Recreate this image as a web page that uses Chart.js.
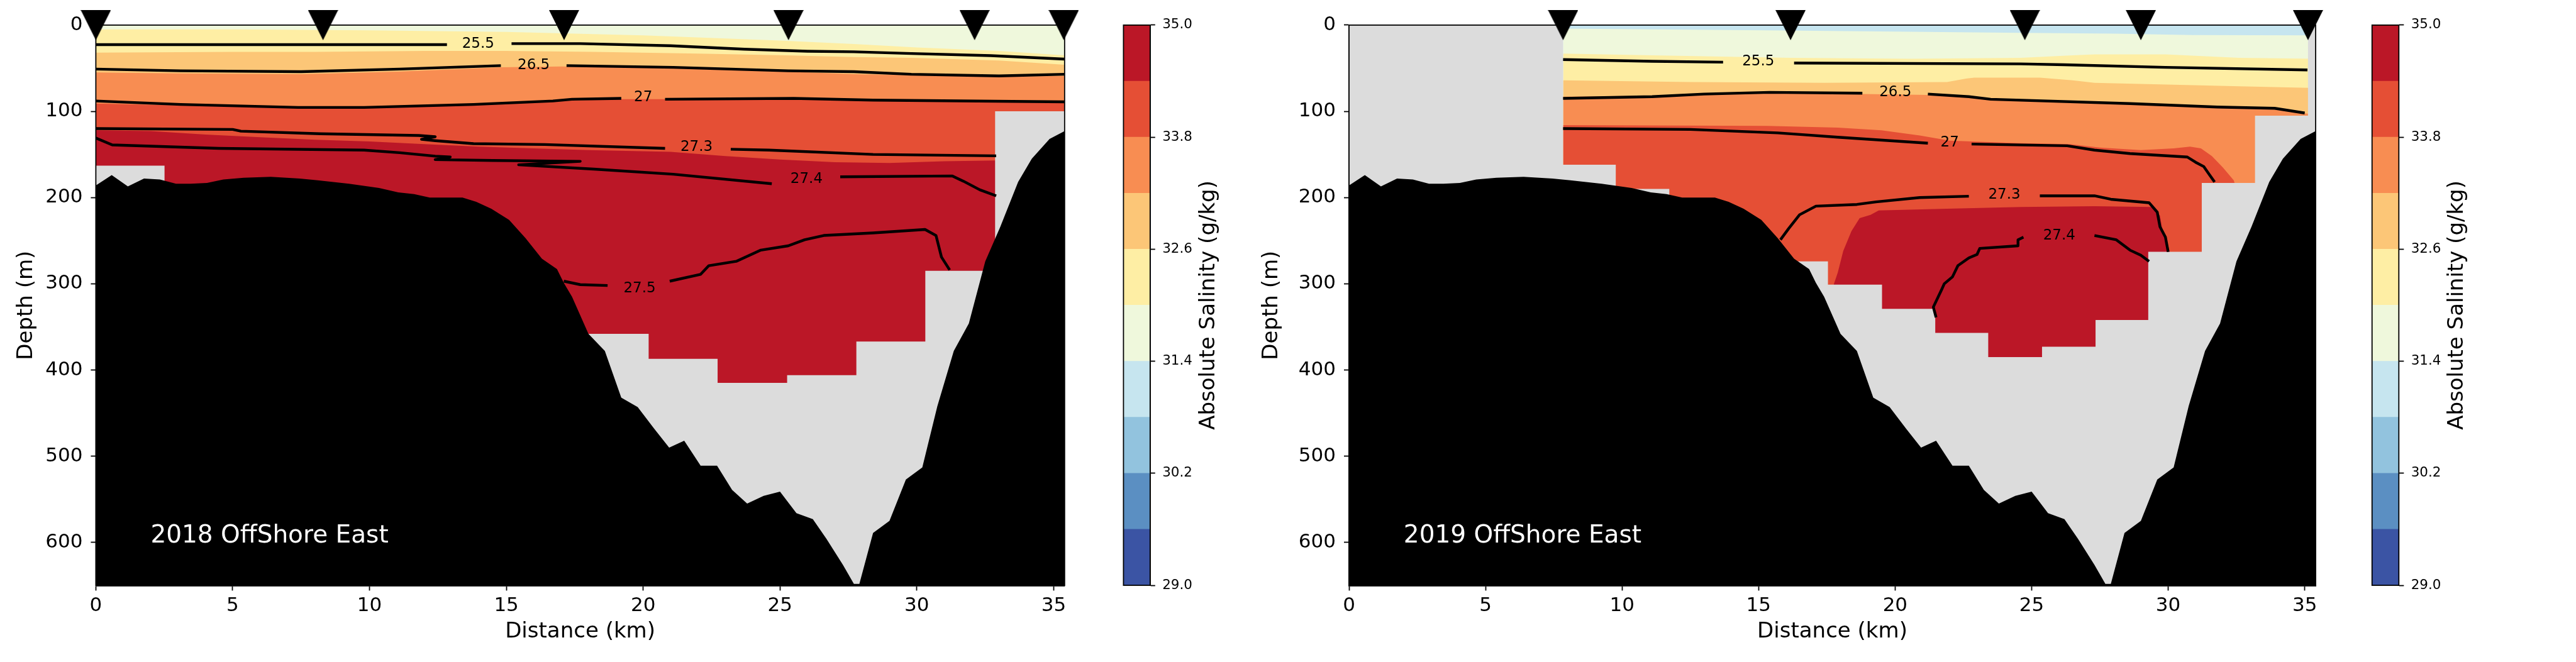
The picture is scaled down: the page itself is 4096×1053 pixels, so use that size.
<!DOCTYPE html>
<html>
<head>
<meta charset="utf-8">
<title>OffShore East salinity sections</title>
<script src="https://cdn.jsdelivr.net/npm/chart.js@4.4.1/dist/chart.umd.min.js"></script>
<style>
  html, body { margin: 0; padding: 0; background: #fff; }
  body { width: 4096px; height: 1053px; position: relative; overflow: hidden; }
  canvas { position: absolute; top: 0; }
</style>
</head>
<body>
<canvas id="sec2018" width="1760" height="1053" style="left:0px"></canvas>
<canvas id="cb2018" width="220" height="1053" style="left:1760px"></canvas>
<canvas id="sec2019" width="1765" height="1053" style="left:1980px"></canvas>
<canvas id="cb2019" width="351" height="1053" style="left:3745px"></canvas>
<script>
Chart.defaults.font.family = "'DejaVu Sans', sans-serif";
Chart.defaults.color = '#000';

// shared axes / colour scale
const distTicks = [0, 5, 10, 15, 20, 25, 30, 35];
const depthTicks = [0, 100, 200, 300, 400, 500, 600];
const salEdges = [29.0, 29.6, 30.2, 30.8, 31.4, 32.0, 32.6, 33.2, 33.8, 34.4, 35.0];
const salColors = ['#3b54a4', '#5b8fc2', '#92c3de', '#c6e5ef', '#eff8dc',
                   '#feeea4', '#fcc677', '#f88d52', '#e54f35', '#bb1727'];
const cbTicks = [29.0, 30.2, 31.4, 32.6, 33.8, 35.0];

// sea floor along the section (km, m)
const bathymetry = [[0,186],[0.58,174],[1.17,187],[1.76,178],[2.34,179],[2.93,184],[3.46,184],[4.06,183],
  [4.66,179],[5.4,177],[6.39,176],[7.45,178],[8.1,180],[9.25,184],[10.35,189],[11.05,194],[11.63,196],
  [12.2,200],[13.4,200],[13.9,205],[14.45,213],[15.1,226],[15.7,247],[16.3,271],[16.85,283],[17.1,299],
  [17.4,315],[18.0,358],[18.6,378],[19.2,432],[19.8,443],[20.4,468],[20.95,490],[21.5,482],[22.1,511],
  [22.7,511],[23.25,539],[23.8,555],[24.4,546],[25.0,541],[25.6,566],[26.2,573],[26.7,596],[27.3,626],
  [27.7,648],[27.9,648],[28.4,589],[29.0,575],[29.6,527],[30.2,513],[30.75,442],[31.35,378],[31.9,346],
  [32.5,274],[33.05,234],[33.7,182],[34.2,155],[34.85,132],[35.4,123]];

// ---------- 2018 ----------
const stations18 = [0, 8.3, 17.11, 25.31, 32.11, 35.37];
// upper edge of each salinity band
const s18_314 = [[0,0],[35.4,0]];
const s18_320 = [[0,5],[5,5],[10,6],[15,8],[20,12],[25,18],[27.7,22],[30,26],[33,30],[35.4,35]];
const s18_326 = [[0,32],[5,31],[8,31],[12,30],[15,30],[18.2,31],[22,33],[25.2,35],[27.7,37],[29.8,38],[33,41],[35.4,46]];
const s18_332 = [[0,55],[3,56],[7.5,57],[11,54],[14.8,49],[17,48],[21,50],[25.3,54],[27.7,57],[29.8,58],[32.7,60],[35.4,59]];
const s18_338 = [[0,91],[3,93],[7,96],[10,96],[13,93],[16,89],[19,86],[22,86],[26,86],[30,88],[33,89],[35.4,90]];
const s18_344 = [[0,122],[2,123],[4,127],[6,130],[8,133],[10,135],[12,138],[14,141],[16,143],[18,145],[21,147],
  [23,152],[25,156],[27,159],[29,160],[31,158],[32.9,157]];
// deepest sampled water, grey below
const mask18 = [[0,163],[2.51,163],[2.51,650],[18.0,650],[18.0,358],[20.2,358],[20.2,387],[22.72,387],[22.72,415],
  [25.26,415],[25.26,406],[27.79,406],[27.79,367],[30.31,367],[30.31,285],[32.86,285],[32.86,100],[35.4,100]];
// density contours (null = gap for the label)
const c18_255 = [[0,22.7],[12.83,22.7],null,[15.19,21.5],[17.7,21.5],[21.0,24],[23.7,28],[26.0,30.3],[27.7,31],[29.8,33],[32.7,35.4],[35.4,39.4]];
const c18_265 = [[0,51],[3.1,53],[7.5,54],[11.1,51],[14.8,47],null,[17.2,47],[21.1,49],[25.3,53],[27.7,54],[29.8,57],[33,59],[35.4,57]];
const c18_27 = [[0,88],[3.1,92],[7.4,95.5],[9.8,95.5],[13.8,92],[16.7,88],[17.4,86],[19.2,85],null,[20.8,86],[25.5,85],[28.4,87],[35.4,89]];
const c18_273 = [[0,120],[5.0,121],[5.3,123],[8.2,126],[11.8,128],[12.4,129.5],[11.9,132.5],[12.4,134],[13.8,137.5],
  [16.4,138.5],[20.8,143],null,[23.2,144],[24.6,145],[28.4,150],[32.9,151.6]];
const c18_274 = [[0,131],[0.6,139],[4.5,143],[9.8,145],[11.1,148],[12.4,152],[12.95,153],[12.4,156],[14.5,157],[17.7,158],
  [15.45,162],[18.2,167],[21.1,173],[24.7,184],null,[27.2,176],[31.3,175],[31.7,181],[32.3,191],[32.9,198]];
const c18_275 = [[17.1,297],[17.7,301],[18.7,302],null,[20.97,297],[22.1,289],[22.4,279],[23.4,274],[24.3,261],[25.3,256],
  [25.9,249],[26.6,244],[28.4,241],[30.3,237],[30.7,244],[30.9,269],[31.2,284]];
const labels18 = [['25.5',13.97,22],['26.5',16.0,47],['27',20.0,84],['27.3',21.95,141.5],['27.4',25.97,179],['27.5',19.87,305.7]];

// ---------- 2019 ----------
const stations19 = [7.84, 16.17, 24.75, 29.0, 35.12];
const s19_308 = [[7.84,0],[35.4,0]];
const s19_314 = [[7.84,4],[11.1,5],[15.3,6],[20,7.5],[24.6,9],[28,10],[30.9,11.5],[35.4,12]];
const s19_320 = [[7.84,33],[11.1,35],[16.2,38],[20.6,39],[24.6,38],[26.5,35],[27.3,34],[29.9,34],[32.6,38],[35.4,39]];
const s19_326 = [[7.84,64],[12.5,66],[17.4,67],[21.9,66],[22.6,62],[22.9,61],[25.3,61],[26.5,64],[27.3,67],[32.6,71],[35.4,73]];
const s19_332 = [[7.84,83],[11.1,82],[13,79],[15.4,79],[18.8,80],[21.2,81],[22.7,84],[23.5,87],[28.6,92],[31.8,96],[33.9,97.5],[35.4,104]];
const s19_338 = [[7.84,116],[15.3,117],[17.9,119],[19.5,122],[20.9,128],[22,134],[24.6,137],[26.4,138],[27.5,142],[29,145],
  [30.2,143],[30.8,141],[31.2,143],[31.6,152],[32,165],[32.4,180],[32.6,200]];
const s19_344 = [[17.75,301],[17.9,287],[18.1,262],[18.4,239],[18.7,224],[19.1,220],[19.4,215],[21.9,213],[24.6,211],
  [27.3,210],[29.4,211],[29.7,221],[29.8,239],[30,256],[30.05,263]];
const mask19 = [[0,0],[7.84,0],[7.84,162],[9.77,162],[9.77,190],[11.73,190],[11.73,650],[16.2,650],[16.2,274],[17.54,274],
  [17.54,301],[19.52,301],[19.52,329],[21.47,329],[21.47,357],[23.41,357],[23.41,385],[25.38,385],[25.38,373],[27.34,373],
  [27.34,342],[29.27,342],[29.27,263],[31.23,263],[31.23,183],[33.18,183],[33.18,105],[35.12,105],[35.12,0],[35.4,0]];
const c19_255 = [[7.84,40],[11.1,42],[13.7,43],null,[16.3,44],[24.6,45],[26.2,46],[29.9,49],[35.1,52]];
const c19_265 = [[7.84,85],[11.1,83],[13.0,80],[15.4,78],[18.8,79],null,[21.2,80],[22.7,83],[23.5,86],[28.6,91],[31.8,95],[33.9,96.5],[35.0,102]];
const c19_27 = [[7.84,120],[12.5,121],[15.7,125],[16.6,127],[17.9,130],[21.2,137],null,[22.8,138],[26.3,140],[27.3,145],
  [28.6,149],[30.7,153],[31.0,159],[31.3,164],[31.5,173],[31.7,182]];
const c19_273 = [[15.8,249],[16.1,236],[16.5,220],[17.1,210],[18.6,208],[19.3,205],[20.9,200],[22.7,198.5],null,
  [25.3,198],[27.3,198],[27.9,202],[29.3,206],[29.6,217],[29.7,234],[29.9,246],[30.0,263]];
const c19_274 = [[21.5,339],[21.4,327],[21.7,307],[21.8,300],[22.1,292],[22.3,279],[22.7,270],[23.0,266],[23.1,259],
  [24.5,256],[24.5,249],[24.7,246],null,[27.3,244],[28.1,249],[28.6,261],[29.0,267],[29.3,274]];
const labels19 = [['25.5',14.99,42.5],['26.5',20.01,78.3],['27',22.0,136.4],['27.3',24.0,196.6],['27.4',26.01,244.6]];


function xy(arr) {
    return arr.map(p => p === null ? {x: null, y: null} : {x: p[0], y: p[1]});
}

// downward triangle like matplotlib 'v'
function triangleMarker(size) {
    const c = document.createElement('canvas');
    c.width = size;
    c.height = size;
    const g = c.getContext('2d');
    g.fillStyle = '#000';
    g.beginPath();
    g.moveTo(0, 0);
    g.lineTo(size, 0);
    g.lineTo(size / 2, size);
    g.closePath();
    g.fill();
    return c;
}
const marker = triangleMarker(48);

const sectionDecor = {
    id: 'sectionDecor',
    afterDatasetsDraw(chart, args, opts) {
        const {ctx, chartArea: a, scales: {x, y}} = chart;
        ctx.save();
        ctx.strokeStyle = '#000';
        ctx.lineWidth = 1.8;
        ctx.strokeRect(a.left, a.top, a.right - a.left, a.bottom - a.top);
        ctx.fillStyle = '#000';
        ctx.font = "23px 'DejaVu Sans'";
        ctx.textAlign = 'center';
        ctx.textBaseline = 'middle';
        opts.labels.forEach(([t, km, m]) => {
            ctx.fillText(t, x.getPixelForValue(km), y.getPixelForValue(m));
        });
        ctx.fillStyle = '#fff';
        ctx.font = "39px 'DejaVu Sans'";
        ctx.textAlign = 'left';
        ctx.textBaseline = 'alphabetic';
        ctx.fillText(opts.title, x.getPixelForValue(2), y.getPixelForValue(600));
        ctx.restore();
    }
};

const cbDecor = {
    id: 'cbDecor',
    afterDatasetsDraw(chart, args, opts) {
        const {ctx, chartArea: a} = chart;
        ctx.save();
        ctx.strokeStyle = '#000';
        ctx.lineWidth = 1.8;
        ctx.strokeRect(a.left, a.top, a.right - a.left, a.bottom - a.top);
        ctx.translate(opts.labelX, (a.top + a.bottom) / 2);
        ctx.rotate(-Math.PI / 2);
        ctx.fillStyle = '#000';
        ctx.font = "34px 'DejaVu Sans'";
        ctx.textAlign = 'center';
        ctx.textBaseline = 'middle';
        ctx.fillText('Absolute Salinity (g/kg)', 0, 0);
        ctx.restore();
    }
};

function sectionChart(id, p) {
    const datasets = [];
    let order = 100;
    const area = (data, color) => ({
        data: xy(data), backgroundColor: color, fill: {value: 650},
        borderWidth: 0, pointRadius: 0, order: order--
    });

    p.bands.forEach(([ci, edge]) => datasets.push(area(edge, salColors[ci])));
    datasets.push(area(p.mask, '#dcdcdc'));
    datasets.push(area(bathymetry, '#000'));
    p.contours.forEach(c => datasets.push({
        data: xy(c), borderColor: '#000', borderWidth: 4.4, borderJoinStyle: 'round',
        pointRadius: 0, fill: false, spanGaps: false, order: order--
    }));
    datasets.push({
        data: p.stations.map(s => ({x: s, y: 0})), showLine: false,
        pointStyle: marker, pointRadius: 24, clip: false, order: 0
    });

    return new Chart(document.getElementById(id), {
        type: 'line',
        data: {datasets},
        plugins: [sectionDecor],
        options: {
            responsive: false,
            animation: false,
            events: [],
            layout: {padding: {left: 0, right: p.padRight, top: 39.9, bottom: 0}},
            plugins: {
                legend: {display: false},
                tooltip: {enabled: false},
                sectionDecor: {labels: p.labels, title: p.title}
            },
            scales: {
                x: {
                    type: 'linear', min: 0, max: 35.4,
                    afterBuildTicks: s => { s.ticks = distTicks.map(v => ({value: v})); },
                    afterFit: s => { s.height = 121.6; },
                    grid: {drawOnChartArea: false, drawTicks: true, tickLength: 8, tickWidth: 1.8, tickColor: '#000'},
                    border: {display: true, color: '#000', width: 1.8},
                    ticks: {font: {size: 31}, color: '#000', padding: 6, maxRotation: 0, autoSkip: false},
                    title: {display: true, text: 'Distance (km)', font: {size: 34}, color: '#000', padding: {top: 0, bottom: 27}}
                },
                y: {
                    type: 'linear', reverse: true, min: 0, max: 650,
                    afterBuildTicks: s => { s.ticks = depthTicks.map(v => ({value: v})); },
                    afterFit: s => { s.width = p.axisW; },
                    grid: {drawOnChartArea: false, drawTicks: true, tickLength: 8, tickWidth: 1.8, tickColor: '#000'},
                    border: {display: true, color: '#000', width: 1.8},
                    ticks: {font: {size: 31}, color: '#000', padding: 13, autoSkip: false},
                    title: {display: true, text: 'Depth (m)', font: {size: 34}, color: '#000', padding: {top: 21.3, bottom: 0}}
                }
            }
        }
    });
}

function colorbar(id, p) {
    const datasets = salColors.map((c, i) => ({
        data: [[salEdges[i], salEdges[i + 1]]],
        backgroundColor: c, borderWidth: 0, grouped: false,
        barPercentage: 1, categoryPercentage: 1
    }));
    return new Chart(document.getElementById(id), {
        type: 'bar',
        data: {labels: [''], datasets},
        plugins: [cbDecor],
        options: {
            responsive: false,
            animation: false,
            events: [],
            layout: {padding: {left: p.padLeft, right: 0, top: 39.9, bottom: 1053 - 931}},
            plugins: {legend: {display: false}, tooltip: {enabled: false}, cbDecor: {labelX: p.labelX}},
            scales: {
                x: {display: false},
                y: {
                    position: 'right', min: 29, max: 35,
                    afterBuildTicks: s => { s.ticks = cbTicks.map(v => ({value: v})); },
                    afterFit: s => { s.width = p.axisW; },
                    grid: {drawOnChartArea: false, drawTicks: true, tickLength: 8, tickWidth: 1.8, tickColor: '#000'},
                    border: {display: true, color: '#000', width: 1.8},
                    ticks: {font: {size: 21.4}, color: '#000', padding: 11.4, autoSkip: false,
                            callback: v => Number(v).toFixed(1)}
                }
            }
        }
    });
}

sectionChart('sec2018', {
    bands: [[4, s18_314], [5, s18_320], [6, s18_326], [7, s18_332], [8, s18_338], [9, s18_344]],
    mask: mask18,
    contours: [c18_255, c18_265, c18_27, c18_273, c18_274, c18_275],
    labels: labels18,
    stations: stations18,
    title: '2018 OffShore East',
    axisW: 152.4,
    padRight: 1760 - 1692.8
});

sectionChart('sec2019', {
    bands: [[3, s19_308], [4, s19_314], [5, s19_320], [6, s19_326], [7, s19_332], [8, s19_338], [9, s19_344]],
    mask: mask19,
    contours: [c19_255, c19_265, c19_27, c19_273, c19_274],
    labels: labels19,
    stations: stations19,
    title: '2019 OffShore East',
    axisW: 165.0,
    padRight: 1765 - 1702
});

colorbar('cb2018', {padLeft: 26.4, axisW: 220 - 68.8, labelX: 162.2});
colorbar('cb2019', {padLeft: 26.7, axisW: 351 - 69.3, labelX: 162.6});
</script>
</body>
</html>
